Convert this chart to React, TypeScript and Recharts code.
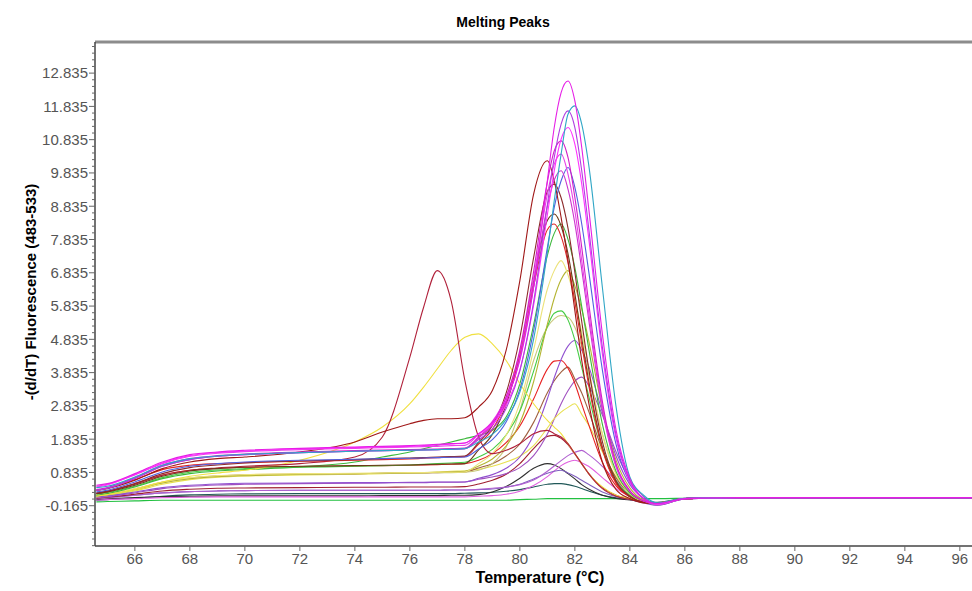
import { LineChart, Line, XAxis, YAxis, ReferenceLine } from 'recharts'

// sample temperatures (°C)
const TEMPS = [64.6, 65, 66, 67, 68, 69, 70, 72, 74, 75, 76, 76.5, 77, 77.5, 78, 78.5, 79, 79.5, 80, 80.5, 81, 81.25, 81.5, 81.75, 82, 82.25, 82.5, 83, 83.5, 84, 84.5, 85, 86, 88, 92, 97]

// -(d/dT) fluorescence, one array per sample well
const C01 = [0.45, 0.5, 0.8, 1.15, 1.37, 1.45, 1.5, 1.56, 1.6, 1.62, 1.64, 1.66, 1.68, 1.7, 1.72, 2.0, 2.35, 3.0, 4.2, 6.4, 9.6, 11.2, 12.25, 12.6, 12.0, 10.6, 8.8, 5.0, 2.1, 0.65, 0.05, -0.1, 0.05, 0.08, 0.08, 0.08]
const C02 = [0.38, 0.42, 0.7, 1.05, 1.25, 1.33, 1.38, 1.43, 1.47, 1.49, 1.5, 1.51, 1.52, 1.53, 1.55, 1.75, 1.98, 2.43, 3.25, 4.84, 7.46, 9.0, 10.4, 11.6, 11.85, 11.3, 10.1, 6.4, 2.8, 0.7, 0.15, -0.08, 0.06, 0.08, 0.08, 0.08]
const C03 = [0.3, 0.36, 0.65, 1.02, 1.22, 1.32, 1.37, 1.43, 1.47, 1.49, 1.5, 1.51, 1.52, 1.53, 1.55, 1.82, 2.14, 2.76, 3.89, 5.96, 8.88, 10.3, 11.3, 11.7, 11.2, 9.9, 8.2, 4.6, 1.95, 0.6, 0.05, -0.1, 0.05, 0.08, 0.08, 0.08]
const C04 = [0.4, 0.46, 0.78, 1.12, 1.34, 1.43, 1.48, 1.54, 1.58, 1.6, 1.62, 1.64, 1.66, 1.69, 1.72, 1.98, 2.28, 2.86, 3.92, 5.86, 8.58, 9.9, 10.85, 11.2, 10.7, 9.5, 7.9, 4.4, 1.85, 0.55, 0.05, -0.12, 0.05, 0.08, 0.08, 0.08]
const C05 = [0.32, 0.38, 0.68, 1.05, 1.25, 1.34, 1.39, 1.45, 1.49, 1.51, 1.52, 1.53, 1.54, 1.55, 1.57, 1.9, 2.31, 3.09, 4.52, 6.87, 9.57, 10.5, 10.8, 10.3, 9.1, 7.6, 5.95, 2.97, 1.09, 0.29, -0.02, -0.1, 0.06, 0.08, 0.08, 0.08]
const C06 = [0.3, 0.35, 0.6, 0.95, 1.15, 1.25, 1.3, 1.45, 1.75, 2.05, 2.3, 2.4, 2.45, 2.45, 2.48, 2.8, 3.3, 4.5, 6.6, 9.2, 10.2, 9.6, 8.5, 7.2, 5.7, 4.2, 2.95, 1.15, 0.32, 0.05, -0.08, -0.1, 0.05, 0.08, 0.08, 0.08]
const C07 = [0.42, 0.48, 0.76, 1.1, 1.32, 1.41, 1.46, 1.52, 1.56, 1.58, 1.6, 1.61, 1.62, 1.64, 1.65, 1.98, 2.37, 3.11, 4.45, 6.66, 9.2, 10.1, 10.4, 9.8, 8.7, 7.2, 5.66, 2.83, 1.03, 0.27, -0.02, -0.12, 0.05, 0.08, 0.08, 0.08]
const C08 = [0.25, 0.3, 0.55, 0.85, 1.02, 1.1, 1.15, 1.2, 1.23, 1.25, 1.26, 1.27, 1.28, 1.29, 1.3, 1.54, 1.82, 2.35, 3.33, 5.1, 7.59, 8.8, 9.6, 10.0, 9.4, 8.3, 6.9, 3.92, 1.67, 0.53, 0.05, -0.1, 0.05, 0.08, 0.08, 0.08]
const C09 = [0.22, 0.27, 0.5, 0.8, 0.98, 1.06, 1.12, 1.18, 1.22, 1.25, 1.27, 1.28, 1.3, 1.31, 1.33, 1.74, 2.25, 3.22, 4.89, 7.29, 9.28, 9.5, 9.09, 8.18, 6.85, 5.37, 3.97, 1.76, 0.58, 0.12, -0.06, -0.1, 0.05, 0.08, 0.08, 0.08]
const C10 = [0.3, 0.36, 0.65, 1.02, 1.22, 1.32, 1.37, 1.43, 1.47, 1.49, 1.5, 1.51, 1.52, 1.53, 1.55, 1.87, 2.25, 2.96, 4.26, 6.4, 8.84, 9.62, 9.9, 9.35, 8.32, 6.93, 5.45, 2.73, 1.0, 0.26, -0.02, -0.1, 0.05, 0.08, 0.08, 0.08]
const C11 = [0.2, 0.25, 0.45, 0.72, 0.88, 0.95, 0.99, 1.02, 1.04, 1.05, 1.06, 1.07, 1.08, 1.09, 1.1, 1.51, 1.98, 2.87, 4.4, 6.59, 8.41, 8.6, 8.24, 7.41, 6.21, 4.86, 3.6, 1.59, 0.53, 0.11, -0.06, -0.1, 0.05, 0.08, 0.08, 0.08]
const C12 = [0.15, 0.2, 0.4, 0.65, 0.8, 0.88, 0.92, 1.0, 1.15, 1.3, 1.45, 1.55, 1.65, 1.75, 1.85, 1.95, 2.1, 2.5, 3.5, 5.27, 7.36, 8.02, 8.3, 7.84, 6.99, 5.82, 4.58, 2.29, 0.86, 0.22, -0.03, -0.1, 0.05, 0.08, 0.08, 0.08]
const C13 = [0.15, 0.2, 0.35, 0.55, 0.68, 0.74, 0.77, 0.8, 0.81, 0.82, 0.83, 0.83, 0.84, 0.84, 0.85, 1.1, 1.4, 1.95, 2.92, 4.52, 6.34, 6.9, 7.2, 6.77, 6.04, 5.04, 3.96, 1.98, 0.77, 0.2, -0.04, -0.1, 0.05, 0.08, 0.08, 0.08]
const C14 = [0.12, 0.17, 0.32, 0.52, 0.65, 0.71, 0.74, 0.78, 0.8, 0.81, 0.82, 0.83, 0.84, 0.85, 0.87, 1.03, 1.24, 1.63, 2.32, 3.56, 5.29, 6.07, 6.63, 6.9, 6.44, 5.74, 4.81, 2.74, 1.2, 0.37, 0.01, -0.08, 0.05, 0.08, 0.08, 0.08]
const C15 = [0.18, 0.23, 0.42, 0.68, 0.84, 0.91, 0.95, 0.99, 1.02, 1.04, 1.06, 1.08, 1.1, 1.12, 1.14, 1.3, 1.53, 1.96, 2.68, 3.88, 5.22, 5.62, 5.69, 5.42, 4.81, 3.99, 3.14, 1.57, 0.59, 0.15, -0.05, -0.1, 0.05, 0.08, 0.08, 0.08]
const C16 = [0.13, 0.18, 0.33, 0.53, 0.66, 0.72, 0.75, 0.78, 0.8, 0.81, 0.82, 0.82, 0.83, 0.83, 0.84, 0.9, 1.1, 1.6, 2.7, 4.2, 5.2, 5.45, 5.55, 5.5, 5.2, 4.6, 3.8, 2.0, 0.8, 0.2, -0.05, -0.1, 0.05, 0.08, 0.08, 0.08]
const C17 = [0.1, 0.13, 0.25, 0.38, 0.45, 0.49, 0.51, 0.52, 0.53, 0.53, 0.54, 0.54, 0.55, 0.55, 0.55, 0.66, 0.77, 0.96, 1.3, 1.96, 3.05, 3.68, 4.23, 4.63, 4.8, 4.51, 4.03, 2.64, 1.32, 0.47, 0.05, -0.12, 0.05, 0.08, 0.08, 0.08]
const C18 = [0.22, 0.28, 0.5, 0.76, 0.9, 0.96, 0.99, 1.01, 1.03, 1.04, 1.05, 1.06, 1.07, 1.08, 1.1, 1.2, 1.4, 1.73, 2.23, 3.04, 3.94, 4.18, 4.2, 3.97, 3.51, 2.89, 2.28, 1.14, 0.43, 0.1, -0.06, -0.1, 0.05, 0.08, 0.08, 0.08]
const C19 = [0.14, 0.19, 0.34, 0.54, 0.67, 0.73, 0.76, 0.79, 0.8, 0.81, 0.82, 0.82, 0.83, 0.84, 0.85, 0.97, 1.1, 1.33, 1.69, 2.34, 3.23, 3.59, 3.85, 4.0, 3.64, 3.22, 2.68, 1.52, 0.67, 0.19, -0.03, -0.09, 0.05, 0.08, 0.08, 0.08]
const C20 = [0.08, 0.11, 0.22, 0.35, 0.42, 0.46, 0.48, 0.5, 0.51, 0.52, 0.53, 0.53, 0.54, 0.54, 0.55, 0.63, 0.7, 0.8, 0.98, 1.34, 1.99, 2.44, 2.9, 3.29, 3.58, 3.7, 3.45, 2.56, 1.45, 0.61, 0.11, -0.14, 0.04, 0.08, 0.08, 0.08]
const C21 = [0.1, 0.14, 0.28, 0.48, 0.62, 0.69, 0.73, 0.76, 0.78, 0.8, 0.82, 0.83, 0.85, 0.87, 0.88, 0.93, 1.02, 1.15, 1.32, 1.64, 2.17, 2.45, 2.65, 2.79, 2.9, 2.58, 2.26, 1.46, 0.7, 0.25, -0.01, -0.11, 0.05, 0.08, 0.08, 0.08]
const C22 = [0.06, 0.09, 0.18, 0.28, 0.33, 0.36, 0.37, 0.38, 0.39, 0.39, 0.4, 0.4, 0.4, 0.4, 0.41, 0.49, 0.6, 0.78, 1.1, 1.55, 1.92, 1.95, 1.86, 1.67, 1.39, 1.09, 0.81, 0.38, 0.15, 0.04, -0.05, -0.08, 0.05, 0.08, 0.08, 0.08]
const C23 = [0.05, 0.08, 0.15, 0.22, 0.26, 0.28, 0.29, 0.3, 0.3, 0.3, 0.3, 0.3, 0.3, 0.31, 0.31, 0.33, 0.36, 0.4, 0.47, 0.61, 0.87, 1.03, 1.19, 1.34, 1.44, 1.5, 1.37, 1.02, 0.58, 0.23, 0.0, -0.15, 0.04, 0.08, 0.08, 0.08]
const C24 = [0.0, 0.02, 0.05, 0.08, 0.09, 0.1, 0.1, 0.1, 0.1, 0.1, 0.1, 0.1, 0.1, 0.1, 0.1, 0.12, 0.14, 0.18, 0.27, 0.44, 0.71, 0.88, 1.04, 1.15, 1.2, 1.13, 1.02, 0.68, 0.35, 0.12, -0.05, -0.12, 0.05, 0.08, 0.08, 0.08]
const C25 = [0.02, 0.04, 0.08, 0.11, 0.12, 0.13, 0.13, 0.13, 0.13, 0.14, 0.14, 0.14, 0.14, 0.15, 0.15, 0.17, 0.25, 0.41, 0.66, 0.96, 1.1, 1.06, 0.95, 0.8, 0.64, 0.47, 0.34, 0.15, 0.05, 0.01, -0.05, -0.08, 0.05, 0.08, 0.08, 0.08]
const C26 = [0.05, 0.08, 0.15, 0.22, 0.26, 0.28, 0.29, 0.3, 0.3, 0.3, 0.3, 0.3, 0.3, 0.31, 0.31, 0.32, 0.34, 0.39, 0.48, 0.64, 0.81, 0.87, 0.9, 0.82, 0.72, 0.6, 0.48, 0.25, 0.11, 0.02, -0.08, -0.15, 0.04, 0.08, 0.08, 0.08]
const C27 = [0.2, 0.26, 0.48, 0.75, 0.9, 0.97, 1.02, 1.1, 1.3, 1.9, 4.3, 5.8, 6.9, 6.0, 3.6, 1.9, 1.4, 1.5, 1.7, 2.0, 2.1, 2.0, 1.9, 1.7, 1.4, 1.1, 0.8, 0.35, 0.12, 0.02, -0.05, -0.08, 0.05, 0.08, 0.08, 0.08]
const C28 = [0.12, 0.17, 0.32, 0.55, 0.72, 0.82, 0.9, 1.2, 1.75, 2.2, 2.9, 3.4, 3.95, 4.5, 4.9, 5.0, 4.7, 4.2, 3.5, 2.9, 2.4, 2.2, 2.0, 1.7, 1.4, 1.1, 0.8, 0.4, 0.15, 0.05, -0.03, -0.08, 0.05, 0.08, 0.08, 0.08]
const C29 = [-0.05, -0.04, -0.02, 0.0, 0.0, 0.0, 0.0, 0.0, 0.0, 0.0, 0.0, 0.0, 0.0, 0.0, 0.0, 0.0, 0.0, 0.0, 0.02, 0.03, 0.05, 0.05, 0.05, 0.05, 0.05, 0.05, 0.05, 0.05, 0.05, 0.05, 0.05, 0.05, 0.06, 0.08, 0.08, 0.08]
const C30 = [0.0, 0.02, 0.06, 0.12, 0.16, 0.18, 0.19, 0.2, 0.2, 0.2, 0.2, 0.2, 0.2, 0.2, 0.21, 0.22, 0.24, 0.27, 0.32, 0.4, 0.48, 0.5, 0.5, 0.47, 0.42, 0.35, 0.28, 0.15, 0.07, 0.02, -0.03, -0.06, 0.05, 0.08, 0.08, 0.08]
const C31 = [0.3, 0.36, 0.62, 0.92, 1.05, 1.1, 1.13, 1.17, 1.2, 1.22, 1.24, 1.26, 1.28, 1.3, 1.31, 1.69, 2.13, 2.96, 4.39, 6.43, 8.13, 8.3, 7.93, 7.14, 5.97, 4.68, 3.47, 1.54, 0.5, 0.11, -0.06, -0.1, 0.05, 0.08, 0.08, 0.08]

// drawing order: low curves first, tall magenta ones on top
const SERIES = [
  { key: 'c29', color: '#22c040', values: C29 },
  { key: 'c30', color: '#205858', values: C30 },
  { key: 'c25', color: '#303030', values: C25 },
  { key: 'c24', color: '#e060e0', values: C24 },
  { key: 'c26', color: '#8060c0', values: C26 },
  { key: 'c23', color: '#b060d0', values: C23 },
  { key: 'c22', color: '#a02030', values: C22 },
  { key: 'c20', color: '#a050c0', values: C20 },
  { key: 'c21', color: '#e8e050', values: C21 },
  { key: 'c19', color: '#a06040', values: C19 },
  { key: 'c18', color: '#e82020', values: C18 },
  { key: 'c17', color: '#9050d0', values: C17 },
  { key: 'c16', color: '#c8c87a', values: C16 },
  { key: 'c15', color: '#44cc44', values: C15 },
  { key: 'c14', color: '#b4b432', values: C14 },
  { key: 'c13', color: '#ece27a', values: C13 },
  { key: 'c12', color: '#3cb83c', values: C12 },
  { key: 'c28', color: '#f0e040', values: C28 },
  { key: 'c27', color: '#b0203a', values: C27 },
  { key: 'c11', color: '#6b3a1a', values: C11 },
  { key: 'c31', color: '#e02828', values: C31 },
  { key: 'c09', color: '#8b2a2a', values: C09 },
  { key: 'c08', color: '#5060e0', values: C08 },
  { key: 'c06', color: '#a01818', values: C06 },
  { key: 'c10', color: '#cc33cc', values: C10 },
  { key: 'c07', color: '#e840e8', values: C07 },
  { key: 'c05', color: '#d21ec8', values: C05 },
  { key: 'c04', color: '#ff30ff', values: C04 },
  { key: 'c03', color: '#b03ee0', values: C03 },
  { key: 'c02', color: '#2fa6c6', values: C02 },
  { key: 'c01', color: '#e61ee6', values: C01 },
]

const X_TICKS = [66, 68, 70, 72, 74, 76, 78, 80, 82, 84, 86, 88, 90, 92, 94, 96]
const Y_LABELS = [-0.165, 0.835, 1.835, 2.835, 3.835, 4.835, 5.835, 6.835, 7.835, 8.835, 9.835, 10.835, 11.835, 12.835]

const X_MIN = 64.55
const X_MAX = 97.46
const Y_MIN = -1.375
const Y_MAX = 13.77

const FONT = "'Liberation Sans', Arial, sans-serif"

const rows = TEMPS.map((t, i) => {
  const r: Record<string, number> = { t }
  SERIES.forEach((s) => {
    r[s.key] = s.values[i]
  })
  return r
})

// minor ticks every 0.2 between the labelled ones
const yTicks: number[] = []
for (let k = -6; k <= 69; k++) yTicks.push(Number((-0.165 + k * 0.2).toFixed(3)))

function YTick(props: any) {
  const { x, y, payload } = props
  const v = payload.value as number
  const major = Y_LABELS.some((m) => Math.abs(m - v) < 1e-6)
  return (
    <g>
      <line x1={x - (major ? 6 : 3)} x2={x} y1={y} y2={y} stroke="#666" />
      {major && (
        <text x={x - 7} y={y} dy="0.355em" textAnchor="end" fontSize={15} fill="#555" fontFamily={FONT}>
          {v.toFixed(3)}
        </text>
      )}
    </g>
  )
}

export default function App() {
  return (
    <div
      style={{
        position: 'absolute',
        left: 0,
        top: 0,
        width: 972,
        height: 591,
        overflow: 'hidden',
        background: '#fff',
        fontFamily: FONT,
      }}
    >
      <LineChart width={1000} height={591} data={rows} margin={{ top: 42, right: 0, bottom: 0, left: 0 }}>
        <XAxis
          dataKey="t"
          type="number"
          domain={[X_MIN, X_MAX]}
          ticks={X_TICKS}
          interval={0}
          allowDataOverflow
          height={45}
          tickSize={5}
          tickLine={{ stroke: '#666' }}
          axisLine={{ stroke: '#444', strokeWidth: 1.5 }}
          tick={{ fontSize: 15, fill: '#555', fontFamily: FONT }}
        />
        <YAxis
          type="number"
          domain={[Y_MIN, Y_MAX]}
          ticks={yTicks}
          interval={0}
          allowDataOverflow
          width={95}
          tickSize={0}
          tickMargin={0}
          tickLine={false}
          axisLine={{ stroke: '#444', strokeWidth: 1.5 }}
          tick={<YTick />}
        />
        <ReferenceLine y={Y_MAX} stroke="#8c8c8c" strokeWidth={3} />
        {SERIES.map((s) => (
          <Line
            key={s.key}
            dataKey={s.key}
            type="monotone"
            stroke={s.color}
            strokeWidth={1.1}
            dot={false}
            isAnimationActive={false}
          />
        ))}
      </LineChart>
      <div
        style={{
          position: 'absolute',
          left: 503,
          top: 22,
          transform: 'translate(-50%, -50%)',
          fontWeight: 'bold',
          fontSize: 14,
          whiteSpace: 'nowrap',
        }}
      >
        Melting Peaks
      </div>
      <div
        style={{
          position: 'absolute',
          left: 540,
          top: 578,
          transform: 'translate(-50%, -50%)',
          fontWeight: 'bold',
          fontSize: 16,
          whiteSpace: 'nowrap',
        }}
      >
        Temperature (°C)
      </div>
      <div
        style={{
          position: 'absolute',
          left: 30,
          top: 292,
          transform: 'translate(-50%, -50%) rotate(-90deg)',
          fontWeight: 'bold',
          fontSize: 15,
          whiteSpace: 'nowrap',
        }}
      >
        -(d/dT) Fluorescence (483-533)
      </div>
    </div>
  )
}
